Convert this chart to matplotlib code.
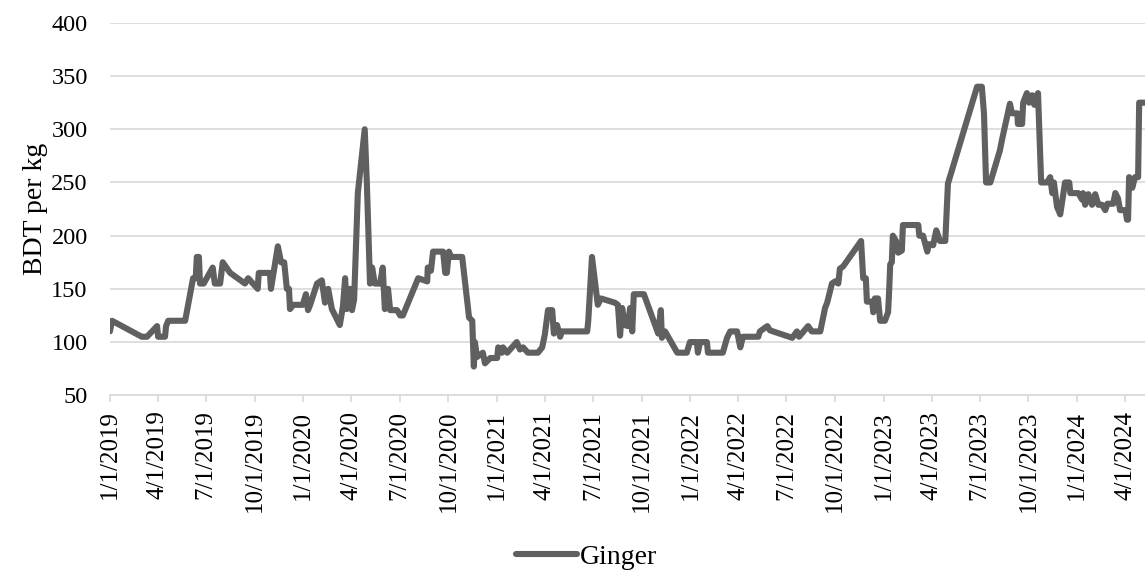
import matplotlib
matplotlib.use("Agg")
import matplotlib.pyplot as plt
import matplotlib.dates as mdates
from matplotlib.ticker import FuncFormatter, MultipleLocator
import pandas as pd

plt.rcParams['font.family'] = ['Liberation Serif', 'DejaVu Serif']

# Ginger retail price, BDT per kg
dates = [
    "2019-01-01", "2019-01-05", "2019-03-02", "2019-03-12", "2019-03-31", "2019-04-02",
    "2019-04-15", "2019-04-17", "2019-04-21", "2019-05-23", "2019-06-07", "2019-06-12",
    "2019-06-14", "2019-06-18", "2019-06-20", "2019-06-27", "2019-07-14", "2019-07-18",
    "2019-07-28", "2019-08-02", "2019-08-16", "2019-09-13", "2019-09-19", "2019-10-07",
    "2019-10-09", "2019-10-30", "2019-11-01", "2019-11-14", "2019-11-20", "2019-11-26",
    "2019-12-01", "2019-12-05", "2019-12-07", "2019-12-13", "2019-12-31", "2020-01-06",
    "2020-01-10", "2020-01-14", "2020-01-27", "2020-02-05", "2020-02-11", "2020-02-17",
    "2020-02-24", "2020-03-01", "2020-03-10", "2020-03-16", "2020-03-20", "2020-03-23",
    "2020-03-29", "2020-04-02", "2020-04-06", "2020-04-13", "2020-04-26", "2020-04-30",
    "2020-05-06", "2020-05-10", "2020-05-15", "2020-05-25", "2020-05-30", "2020-06-03",
    "2020-06-09", "2020-06-13", "2020-06-26", "2020-07-02", "2020-07-07", "2020-08-05",
    "2020-08-22", "2020-08-23", "2020-08-29", "2020-09-02", "2020-09-21", "2020-09-25",
    "2020-09-28", "2020-10-02", "2020-10-06", "2020-10-27", "2020-11-09", "2020-11-15",
    "2020-11-18", "2020-11-20", "2020-11-24", "2020-12-05", "2020-12-09", "2020-12-19",
    "2021-01-01", "2021-01-03", "2021-01-10", "2021-01-12", "2021-01-20", "2021-02-07",
    "2021-02-13", "2021-02-19", "2021-02-28", "2021-03-19", "2021-03-27", "2021-04-01",
    "2021-04-07", "2021-04-15", "2021-04-18", "2021-04-24", "2021-04-30", "2021-05-03",
    "2021-06-20", "2021-06-22", "2021-06-29", "2021-07-10", "2021-07-16", "2021-08-11",
    "2021-08-17", "2021-08-21", "2021-08-25", "2021-08-30", "2021-09-05", "2021-09-09",
    "2021-09-13", "2021-09-16", "2021-10-05", "2021-11-01", "2021-11-06", "2021-11-08",
    "2021-11-14", "2021-12-07", "2021-12-25", "2021-12-31", "2022-01-13", "2022-01-15",
    "2022-01-19", "2022-02-01", "2022-02-03", "2022-03-03", "2022-03-11", "2022-03-17",
    "2022-03-30", "2022-04-05", "2022-04-10", "2022-05-09", "2022-05-12", "2022-05-26",
    "2022-05-31", "2022-07-12", "2022-07-21", "2022-07-25", "2022-08-11", "2022-08-18",
    "2022-09-03", "2022-09-12", "2022-09-16", "2022-09-25", "2022-10-01", "2022-10-07",
    "2022-10-10", "2022-10-16", "2022-11-19", "2022-11-23", "2022-11-28", "2022-11-30",
    "2022-12-10", "2022-12-12", "2022-12-15", "2022-12-21", "2022-12-25", "2023-01-03",
    "2023-01-09", "2023-01-11", "2023-01-13", "2023-01-16", "2023-01-18", "2023-01-24",
    "2023-01-28", "2023-02-04", "2023-02-06", "2023-03-07", "2023-03-09", "2023-03-16",
    "2023-03-24", "2023-03-27", "2023-04-04", "2023-04-10", "2023-04-17", "2023-04-27",
    "2023-05-02", "2023-06-26", "2023-07-05", "2023-07-09", "2023-07-13", "2023-07-21",
    "2023-08-08", "2023-08-12", "2023-08-27", "2023-08-31", "2023-09-10", "2023-09-11",
    "2023-09-19", "2023-09-21", "2023-09-28", "2023-10-02", "2023-10-08", "2023-10-12",
    "2023-10-19", "2023-10-25", "2023-11-05", "2023-11-11", "2023-11-15", "2023-11-18",
    "2023-11-24", "2023-11-30", "2023-12-09", "2023-12-17", "2023-12-19", "2024-01-03",
    "2024-01-10", "2024-01-12", "2024-01-16", "2024-01-22", "2024-01-29", "2024-02-04",
    "2024-02-10", "2024-02-17", "2024-02-23", "2024-02-27", "2024-03-09", "2024-03-13",
    "2024-03-18", "2024-03-22", "2024-04-01", "2024-04-04", "2024-04-06", "2024-04-08",
    "2024-04-14", "2024-04-19", "2024-04-25", "2024-04-27", "2024-05-08",
]
ginger = [
    110, 120, 105, 105, 115, 105,
    105, 115, 120, 120, 160, 160,
    180, 180, 155, 155, 170, 155,
    155, 175, 165, 155, 160, 150,
    165, 165, 150, 190, 175, 175,
    150, 150, 131, 135, 135, 145,
    130, 135, 155, 158, 137, 150,
    131, 125, 116, 134, 160, 131,
    150, 130, 140, 240, 300, 250,
    155, 170, 155, 155, 170, 131,
    150, 130, 130, 125, 125, 160,
    157, 170, 167, 185, 185, 165,
    165, 185, 180, 180, 123, 120,
    77, 100, 86, 90, 80, 85,
    85, 95, 90, 95, 90, 100,
    93, 95, 90, 90, 95, 107,
    130, 130, 108, 116, 105, 110,
    110, 120, 180, 135, 141, 137,
    135, 106, 132, 116, 115, 132,
    110, 145, 145, 108, 130, 104,
    110, 90, 90, 100, 100, 90,
    100, 100, 90, 90, 104, 110,
    110, 95, 105, 105, 110, 115,
    111, 104, 110, 105, 115, 110,
    110, 132, 137, 155, 157, 155,
    169, 171, 195, 160, 160, 138,
    138, 128, 141, 141, 120, 120,
    128, 148, 173, 175, 200, 195,
    184, 186, 210, 210, 200, 200,
    185, 192, 191, 205, 195, 195,
    249, 340, 340, 315, 250, 250,
    280, 290, 324, 315, 315, 305,
    305, 325, 334, 325, 332, 323,
    334, 250, 250, 255, 240, 250,
    227, 220, 250, 250, 240, 240,
    234, 240, 229, 239, 229, 239,
    229, 229, 224, 230, 230, 240,
    235, 224, 224, 215, 215, 255,
    245, 255, 255, 325, 325,
]

y_min, y_max, y_step = 50, 400, 50

x = pd.to_datetime(dates)
grid_col = "#d9d9d9"

fig = plt.figure(figsize=(11.45, 5.72), dpi=100)
ax = fig.add_axes([0.096, 0.309, 0.904, 0.651])

ax.plot(x, ginger, color="#606060", lw=4.4, solid_joinstyle="round",
        solid_capstyle="round", label="Ginger")

ax.set_ylim(y_min, y_max)
ax.set_xlim(x[0], x[-1])
ax.yaxis.set_major_locator(MultipleLocator(y_step))
ax.grid(axis="y", color=grid_col, lw=1.2)
ax.set_axisbelow(True)

ax.xaxis.set_major_locator(mdates.MonthLocator(bymonth=[1, 4, 7, 10]))
ax.xaxis.set_major_formatter(FuncFormatter(
    lambda v, pos: "{d.month}/{d.day}/{d.year}".format(d=mdates.num2date(v))))

for s in ["top", "right", "left"]:
    ax.spines[s].set_visible(False)
ax.spines["bottom"].set_color(grid_col)
ax.spines["bottom"].set_linewidth(1.2)

ax.tick_params(axis="x", direction="out", length=5, width=1.2, color=grid_col,
               labelsize=18, labelcolor="black", pad=6, labelrotation=90)
ax.tick_params(axis="y", length=0, labelsize=17.5, labelcolor="black", pad=16)

ax.set_ylabel("BDT per kg", fontsize=20, labelpad=2)

fig.legend(loc="lower center", bbox_to_anchor=(0.512, -0.04), frameon=False,
           fontsize=20, handlelength=2.2, handletextpad=0.1)

fig.savefig("out.png", dpi=100)
